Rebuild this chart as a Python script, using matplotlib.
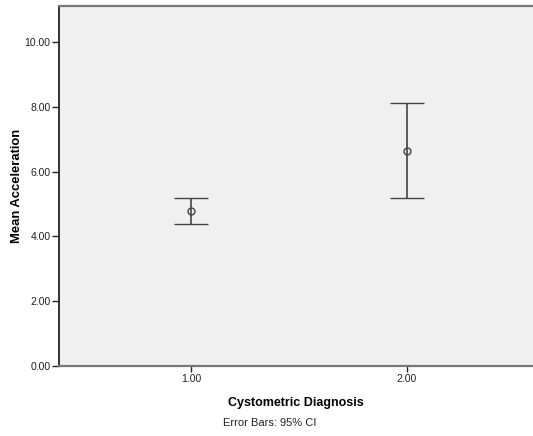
import matplotlib
matplotlib.use("Agg")
import matplotlib.pyplot as plt
import numpy as np

plt.rcParams['font.family'] = ['Liberation Sans', 'DejaVu Sans']

categories = [1.0, 2.0]
means = [4.79, 6.645]
ci_lower = [4.37, 5.19]
ci_upper = [5.19, 8.11]
yticks = [0, 2, 4, 6, 8, 10]

fig = plt.figure(figsize=(5.33, 4.36), dpi=100)
ax = fig.add_axes([59/533, 70/436, 474/533, 360/436])
ax.set_facecolor('#f0f0f0')

means_a = np.array(means)
err = np.vstack([means_a - np.array(ci_lower), np.array(ci_upper) - means_a])
ax.errorbar(categories, means, yerr=err, fmt='o', mfc='none', mec='#444444',
            ms=5, mew=1.0, ecolor='#444444', elinewidth=1.2, capsize=12,
            capthick=1.2)

ax.set_xlim(0.389, 2.583)
ax.set_ylim(0, 11.11)
ax.set_yticks(yticks)
ax.set_yticklabels([f"{v:.2f}" for v in yticks])
ax.set_xticks(categories)
ax.set_xticklabels([f"{v:.2f}" for v in categories])
ax.tick_params(axis='both', labelsize=7.5, direction='out', color='#222222', labelcolor='#222222')
ax.tick_params(axis='y', length=5, width=1, pad=1)
ax.tick_params(axis='x', length=4, width=1, pad=2)

for s in ['right']:
    ax.spines[s].set_visible(False)
ax.spines['left'].set_color('#111111')
ax.spines['left'].set_linewidth(1.2)
ax.spines['top'].set_color('#777777')
ax.spines['top'].set_linewidth(1.6)
ax.spines['bottom'].set_color('#777777')
ax.spines['bottom'].set_linewidth(1.6)

ax.set_xlabel('Cystometric Diagnosis', fontsize=9, fontweight='bold', labelpad=9)
ax.set_ylabel('Mean Acceleration', fontsize=9.4, fontweight='bold', labelpad=1)
fig.text(270/533, 1 - 423/436, 'Error Bars: 95% CI', fontsize=8, ha='center', va='center', color='#222222')

fig.savefig('out.png', dpi=100)
